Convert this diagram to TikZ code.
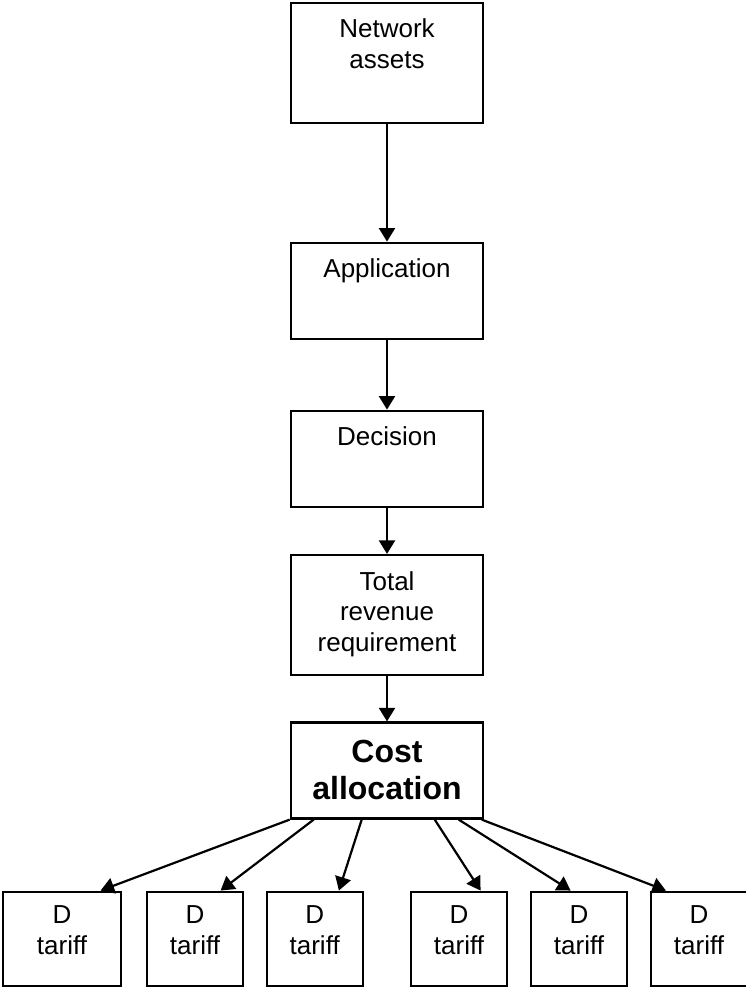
\documentclass[tikz,border=0pt]{standalone}
\usepackage{fontspec}
\setmainfont{Liberation Sans}
\usetikzlibrary{calc, arrows.meta}

\begin{document}
\begin{tikzpicture}[x=1pt, y=-1pt,
  box/.style={draw, line width=2.2pt, minimum width=192pt, inner sep=0pt},
  txt/.style={anchor=north, align=center, inner xsep=0pt, inner ysep=17.5pt, outer sep=0pt,
    font=\fontsize{26}{30.5}\selectfont},
  arr/.style={line width=2.2pt, -{Triangle[length=13.5pt, width=16pt]}}]

  \useasboundingbox (0,0) rectangle (746,987);

  % main chain
  \node[box, minimum height=120pt, label={[txt]north:{Network\\assets}}] (assets) at (387,62.7) {};
  \node[box, minimum height=96.6pt, label={[txt]north:{Application}}] (appl) at (387,291) {};
  \node[box, minimum height=96pt, label={[txt]north:{Decision}}] (decis) at (387,458.7) {};
  \node[box, minimum height=120pt, label={[txt]north:{Total\\revenue\\requirement}}] (revReq) at (387,615) {};
  \node[box, line width=2.6pt, minimum height=95.6pt,
    label={[txt, inner ysep=19pt, font=\fontsize{32}{36.7}\selectfont\bfseries]north:{Cost\\allocation}}] (cost) at (387,770.5) {};

  \draw[arr] (assets) -- (appl);
  \draw[arr] (appl) -- (decis);
  \draw[arr] (decis) -- (revReq);
  \draw[arr] (revReq) -- (cost);

  % tariffs
  \foreach \i/\x/\w in {1/62/118, 2/195/96.6, 3/314.7/96, 4/459/96.6, 5/579/96.6, 6/699/96}
    \node[box, minimum width=\w pt, minimum height=94.3pt,
      label={[txt, inner ysep=15.5pt, font=\fontsize{26}{30.3}\selectfont]north:{D\\tariff}}] (tariff\i) at (\x,938.8) {};

  \foreach \i/\s/\e in {1/0/98.7, 2/24/75, 3/72/73.3, 4/145/71, 5/169/41, 6/192/16}
    \draw[arr] ($(cost.south west)+(\s,0)$) -- ($(tariff\i.north west)+(\e,0)$);

\end{tikzpicture}
\end{document}
